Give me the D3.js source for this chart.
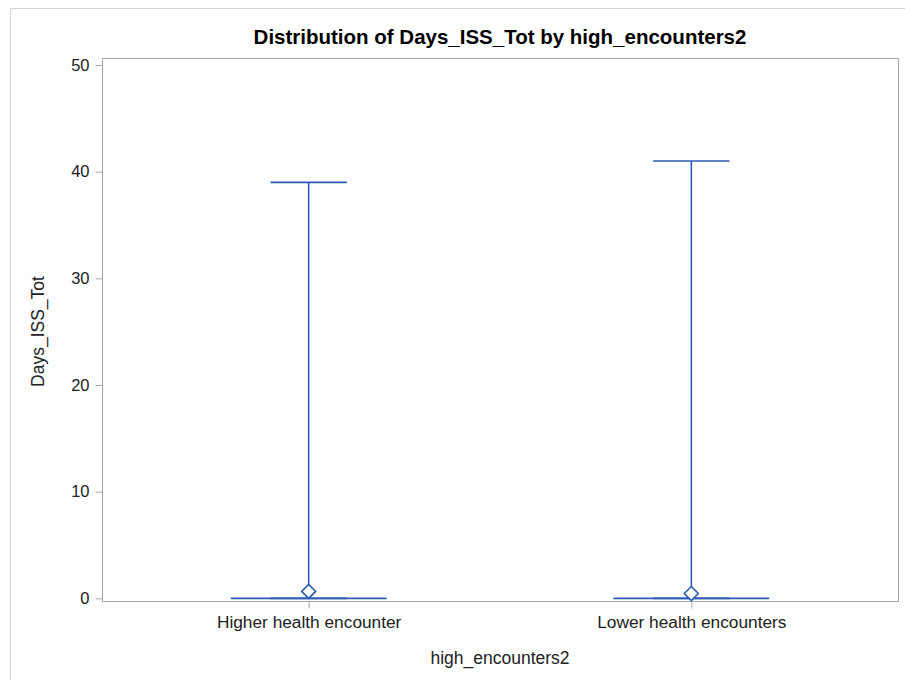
<!DOCTYPE html>
<html>
<head>
<meta charset="utf-8">
<script src="https://cdn.jsdelivr.net/npm/d3@7"></script>
<style>
  html, body { margin: 0; padding: 0; background: #fff; }
  svg { display: block; font-family: "Liberation Sans", Arial, sans-serif; }
</style>
</head>
<body>
<svg id="chart" width="905" height="680"></svg>
<script>
// Box plot summary per group
const categories = ["Higher health encounter", "Lower health encounters"];
const q1Values     = [0, 0];
const medianValues = [0, 0];
const q3Values     = [0, 0];
const minValues    = [0, 0];
const maxValues    = [39, 41];
const meanValues   = [0.65, 0.45];
const yTicks = [0, 10, 20, 30, 40, 50];

const svg = d3.select("#chart");
const W = 905, H = 680;
const plot = { left: 102, right: 898, top: 58, bottom: 601 };
const lineColor = "#2c5bb5";
const axisColor = "#a4a8ab";
const textColor = "#222";

// Outer frame
svg.append("path")
  .attr("d", `M10.5,${H} L10.5,8.5 L${W},8.5`)
  .attr("fill", "none").attr("stroke", "#d4d4d4").attr("stroke-width", 1);

const x = d3.scalePoint().domain(categories).range([plot.left, plot.right]).padding(0.54);
const step = x.step();
const y = d3.scaleLinear().domain([-0.25, 50.66]).range([plot.bottom, plot.top]);

// Plot frame
svg.append("rect")
  .attr("x", plot.left + 0.5).attr("y", plot.top + 0.5)
  .attr("width", plot.right - plot.left).attr("height", plot.bottom - plot.top)
  .attr("fill", "none").attr("stroke", axisColor).attr("stroke-width", 1);

// Y axis
const yAxis = svg.append("g")
  .attr("transform", `translate(${plot.left + 0.5},0)`)
  .call(d3.axisLeft(y).tickValues(yTicks).tickSize(7).tickPadding(6));
yAxis.select(".domain").remove();
yAxis.selectAll("line").attr("stroke", axisColor);
yAxis.selectAll("text").attr("font-size", 16.5).attr("fill", textColor)
  .attr("font-family", "\"Liberation Sans\", Arial, sans-serif");

// X axis
const xAxis = svg.append("g")
  .attr("transform", `translate(0,${plot.bottom + 0.5})`)
  .call(d3.axisBottom(x).tickSize(7).tickPadding(7));
xAxis.select(".domain").remove();
xAxis.selectAll("line").attr("stroke", axisColor);
xAxis.selectAll("text").attr("font-size", 17.3).attr("fill", textColor)
  .attr("font-family", "\"Liberation Sans\", Arial, sans-serif");

// Titles
svg.append("text").attr("x", (plot.left + plot.right) / 2).attr("y", 44)
  .attr("text-anchor", "middle").attr("font-size", 20.5).attr("font-weight", "bold")
  .attr("fill", "#000").text("Distribution of Days_ISS_Tot by high_encounters2");
svg.append("text").attr("x", (plot.left + plot.right) / 2).attr("y", 664)
  .attr("text-anchor", "middle").attr("font-size", 17.5).attr("fill", textColor)
  .text("high_encounters2");
svg.append("text")
  .attr("transform", `translate(44,${(plot.top + plot.bottom) / 2 + 2}) rotate(-90)`)
  .attr("text-anchor", "middle").attr("font-size", 17.5).attr("fill", textColor)
  .text("Days_ISS_Tot");

// Boxes
const boxW = step * 0.407;
const capW = boxW * 0.49;
const g = svg.append("g").attr("fill", "none").attr("stroke", lineColor).attr("stroke-width", 1.6);

categories.forEach((c, i) => {
  const cx = x(c);
  // whiskers
  g.append("line").attr("x1", cx).attr("x2", cx)
    .attr("y1", y(q3Values[i])).attr("y2", y(maxValues[i]));
  g.append("line").attr("x1", cx).attr("x2", cx)
    .attr("y1", y(q1Values[i])).attr("y2", y(minValues[i]));
  // caps
  g.append("line").attr("x1", cx - capW / 2).attr("x2", cx + capW / 2)
    .attr("y1", y(maxValues[i])).attr("y2", y(maxValues[i]));
  g.append("line").attr("x1", cx - capW / 2).attr("x2", cx + capW / 2)
    .attr("y1", y(minValues[i])).attr("y2", y(minValues[i]));
  // box
  const top = y(q3Values[i]), bot = y(q1Values[i]);
  g.append("rect").attr("x", cx - boxW / 2).attr("y", top)
    .attr("width", boxW).attr("height", Math.max(0, bot - top));
  // median
  g.append("line").attr("x1", cx - boxW / 2).attr("x2", cx + boxW / 2)
    .attr("y1", y(medianValues[i])).attr("y2", y(medianValues[i]));
  // mean marker
  const my = y(meanValues[i]), r = 7;
  g.append("path").attr("fill", "#fff")
    .attr("d", `M${cx},${my - r} L${cx + r},${my} L${cx},${my + r} L${cx - r},${my} Z`);
});
</script>
</body>
</html>
